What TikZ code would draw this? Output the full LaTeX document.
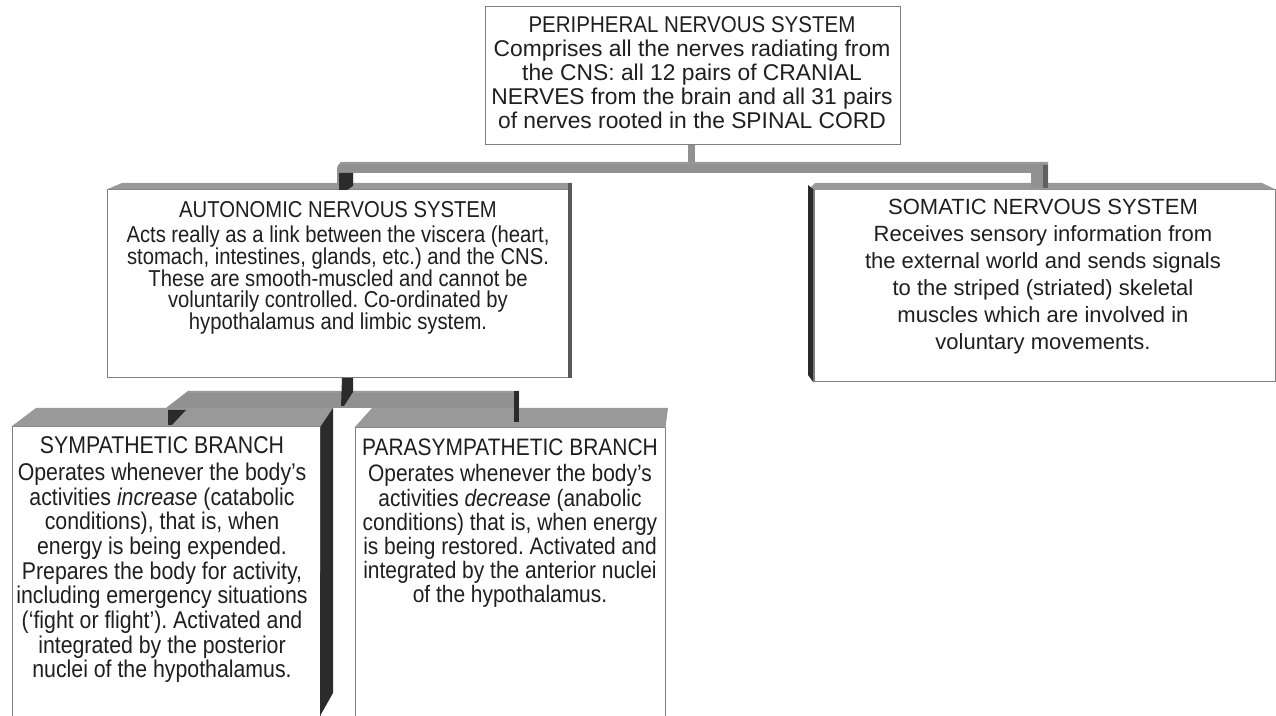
\documentclass[tikz,border=0pt]{standalone}
\usepackage{fontspec}
\setmainfont{Liberation Sans}
\newfontfamily\narrowsans{Liberation Sans}[FakeStretch=0.88]
\newfontfamily\headsans{Liberation Sans}[FakeStretch=0.9]
\usetikzlibrary{fit}
\frenchspacing

\definecolor{beamgray}{gray}{0.57}
\definecolor{facegray}{gray}{0.60}
\definecolor{darkside}{gray}{0.17}
\definecolor{edgegray}{gray}{0.50}

\begin{document}
\begin{tikzpicture}[x=0.5pt,y=-0.5pt,
  face/.style={draw=edgegray, line width=0.5pt, fill=white, inner sep=0pt},
  boxtext/.style={align=center, inner sep=0pt, anchor=north, text=black!88},
  beam/.style={fill=beamgray},
  topface/.style={fill=facegray},
  shadow/.style={fill=darkside},
  sideedge/.style={fill=black!65}]

\useasboundingbox (0,0) rectangle (1276,716);

% front faces of the five boxes
\node[face, fit={(485,7)(900,145)}]    (pns)  {};
\node[face, fit={(107,190)(570,378)}]  (ans)  {};
\node[face, fit={(814,190)(1275,382)}] (sns)  {};
\node[face, fit={(12,427)(320,722)}]   (sym)  {};
\node[face, fit={(355,428)(665,722)}]  (para) {};

% top and side faces of the blocks
\fill[topface] (ans.north west) -- (122,183) -- (572,183) -- (ans.north east) -- cycle;
\fill[sideedge] (568,183) rectangle (572,378);
\fill[topface] (808,190) -- (815,183) -- (1262,183) -- (sns.north east) -- cycle;
\fill[shadow] (808,185) -- (sns.north west) -- (sns.south west) -- (808,375) -- cycle;
\fill[topface] (sym.north west) -- (36,408) -- (333,408) -- (sym.north east) -- cycle;
\fill[shadow] (sym.north east) -- (333,408) -- (333,693) -- (320,716) -- cycle;
\fill[topface] (para.north west) -- (372,408) -- (668,408) -- (para.north east) -- cycle;

% first level: peripheral system to autonomic and somatic systems
\coordinate (b1r) at (1048,162);
\fill[beam] (688,145) rectangle (695,163);
\fill[beam] (337,186) -- (337,169) to[out=90,in=180] (344,162) -- (b1r)
  -- (1048,188) -- (1031,188) -- (1031,173) -- (353,173) -- (353,186) -- cycle;
\fill[black!40] (340,162) rectangle (1048,164.5);
\fill[black!62] (1043,165) rectangle (1048,188);
\fill[shadow] (339,173) -- (353,173) -- (353,186) -- (347,190) -- (339,190) -- cycle;

% second level: autonomic system to its two branches
\fill[beam] (166,408) -- (188,391) -- (519,391) -- (519,408) -- cycle;
\fill[black!40] (188,391) rectangle (519,393.5);
\fill[shadow] (342,378) -- (353,378) -- (353,392) -- (344,406) -- (341,406) -- cycle;
\fill[shadow] (168,410) -- (186,410) -- (172,425) -- (168,425) -- cycle;
\fill[shadow] (514,391) rectangle (518.5,422);

% texts
\node[boxtext, font=\fontsize{11.4}{12}\selectfont] (pnstxt) at (692,15.2)
  {\strut{\headsans PERIPHERAL NERVOUS SYSTEM}\\
   Comprises all the nerves radiating from\\
   the CNS: all 12 pairs of CRANIAL\\
   NERVES from the brain and all 31 pairs\\
   of nerves rooted in the SPINAL CORD};

\node[boxtext, font=\narrowsans\fontsize{11.5}{10.9}\selectfont] (anstxt) at (338,200.74)
  {\strut AUTONOMIC NERVOUS SYSTEM\\
   Acts really as a link between the viscera (heart,\\
   stomach, intestines, glands, etc.) and the CNS.\\
   These are smooth-muscled and cannot be\\
   voluntarily controlled. Co-ordinated by\\
   hypothalamus and limbic system.};

\node[boxtext, font=\fontsize{11}{13.5}\selectfont] (snstxt) at (1043,195.1)
  {\strut SOMATIC NERVOUS SYSTEM\\
   Receives sensory information from\\
   the external world and sends signals\\
   to the striped (striated) skeletal\\
   muscles which are involved in\\
   voluntary movements.};

\node[boxtext, font=\narrowsans\fontsize{12.1}{12.35}\selectfont] (symtxt) at (162,435.71)
  {\strut SYMPATHETIC BRANCH\\
   Operates whenever the body’s\\
   activities \textit{increase} (catabolic\\
   conditions), that is, when\\
   energy is being expended.\\
   Prepares the body for activity,\\
   including emergency situations\\
   (‘fight or flight’). Activated and\\
   integrated by the posterior\\
   nuclei of the hypothalamus.};

\node[boxtext, font=\narrowsans\fontsize{11.9}{12.1}\selectfont] (paratxt) at (510,438.06)
  {\strut PARASYMPATHETIC BRANCH\\
   Operates whenever the body’s\\
   activities \textit{decrease} (anabolic\\
   conditions) that is, when energy\\
   is being restored. Activated and\\
   integrated by the anterior nuclei\\
   of the hypothalamus.};

\end{tikzpicture}
\end{document}
